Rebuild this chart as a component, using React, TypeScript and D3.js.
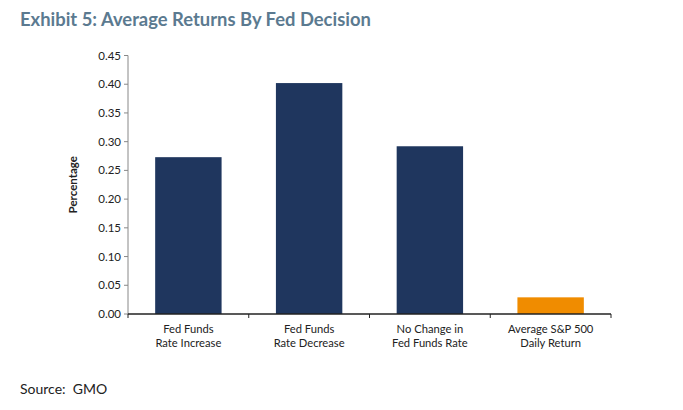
import React from "react";
import * as d3 from "d3";

const categories = [
  ["Fed Funds", "Rate Increase"],
  ["Fed Funds", "Rate Decrease"],
  ["No Change in", "Fed Funds Rate"],
  ["Average S&P 500", "Daily Return"],
];
const values = [0.273, 0.402, 0.292, 0.029];
const barColors = ["#1f365e", "#1f365e", "#1f365e", "#f08c00"];
const yTicks = [0, 0.05, 0.1, 0.15, 0.2, 0.25, 0.3, 0.35, 0.4, 0.45];

export default function App() {
  const W = 683, H = 410;
  const left = 128, right = 611, top = 55.5, bottom = 314;
  const x = d3.scaleBand<number>().domain(d3.range(values.length)).range([left, right]).paddingInner(0.45).paddingOuter(0.225);
  const band = d3.scaleBand<number>().domain(d3.range(values.length)).range([left, right]);
  const y = d3.scaleLinear().domain([0, 0.45]).range([bottom, top]);
  const font = "Lato, 'Open Sans', 'Noto Sans', sans-serif";
  return (
    <svg width={W} height={H} style={{ position: "absolute", left: 0, top: 0, background: "#fff" }}>
      <text x={20} y={26} fontFamily={font} fontWeight="bold" fontSize={18.4} fill="#5b7a90">
        Exhibit 5: Average Returns By Fed Decision
      </text>
      {values.map((v, i) => (
        <rect key={i} x={x(i)} y={y(v)} width={x.bandwidth()} height={bottom - y(v)} fill={barColors[i]} />
      ))}
      <line x1={left} x2={left} y1={top} y2={bottom} stroke="#888" strokeWidth={1} />
      {yTicks.map((t, i) => (
        <g key={i}>
          <line x1={left - 4} x2={left} y1={y(t)} y2={y(t)} stroke="#888" />
          <text x={left - 7} y={y(t)} dy="0.35em" textAnchor="end" fontFamily={font} fontSize={11.5} fill="#222">
            {t.toFixed(2)}
          </text>
        </g>
      ))}
      <line x1={left} x2={right} y1={bottom} y2={bottom} stroke="#222" strokeWidth={1.3} />
      {[...d3.range(values.length).map((i) => band(i)!), right].map((px, i) => (
        <line key={i} x1={px} x2={px} y1={bottom} y2={bottom + 4} stroke="#222" />
      ))}
      {categories.map((lines, i) => (
        <text key={i} textAnchor="middle" fontFamily={font} fontSize={11.2} fill="#222">
          {lines.map((l, j) => (
            <tspan key={j} x={band(i)! + band.bandwidth() / 2} y={333 + j * 14}>{l}</tspan>
          ))}
        </text>
      ))}
      <text transform={`translate(77,${(top + bottom) / 2}) rotate(-90)`} textAnchor="middle" fontFamily={font} fontWeight="bold" fontSize={11.5} fill="#222">
        Percentage
      </text>
      <text x={20} y={394} fontFamily={font} fontSize={14} fill="#222" style={{ whiteSpace: "pre" }}>
        {"Source:  GMO"}
      </text>
    </svg>
  );
}
